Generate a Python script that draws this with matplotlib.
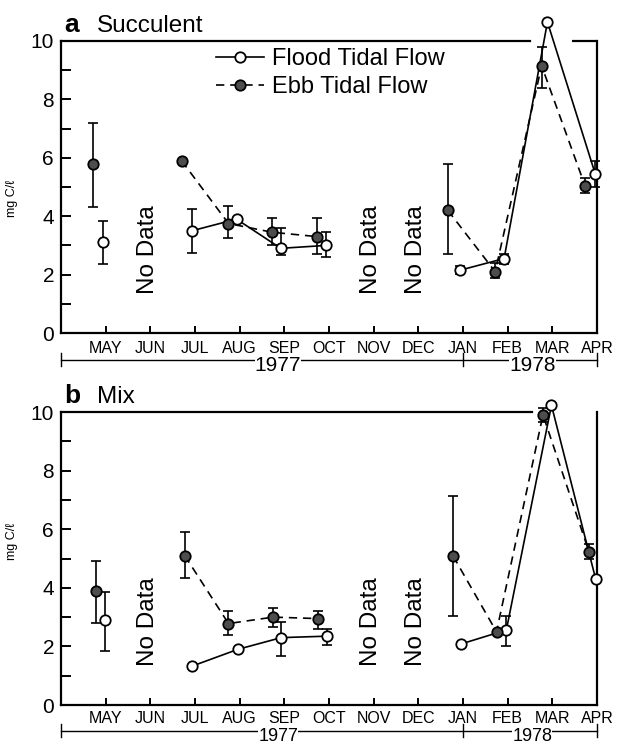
import numpy as np
import matplotlib
matplotlib.use("Agg")
from matplotlib import pyplot as plt

plt.rcParams["font.family"] = ["Liberation Sans", "DejaVu Sans"]

months = ["MAY", "JUN", "JUL", "AUG", "SEP", "OCT", "NOV", "DEC",
          "JAN", "FEB", "MAR", "APR"]
years = ["1977", "1978"]
year_bounds = [0, 9, 12]
no_data_months = [2, 7, 8]

# sampling position (months since APR 1977), concentration and error limits
# index groups: [MAY], [JUL..OCT], [JAN..APR]
segments = [(0, 1), (1, 5), (5, 9)]

a_flood_x = [0.94, 2.93, 3.93, 4.92, 5.94, 8.93, 9.92, 10.89, 11.96]
a_flood_y = [3.1, 3.5, 3.9, 2.9, 3.0, 2.15, 2.55, 10.65, 5.45]
a_flood_lo = [2.35, 2.75, np.nan, 2.68, 2.6, 2.02, 2.38, np.nan, 5.0]
a_flood_hi = [3.83, 4.25, np.nan, 3.58, 3.47, 2.28, 2.7, np.nan, 5.88]

a_ebb_x = [0.72, 2.70, 3.75, 4.73, 5.74, 8.66, 9.72, 10.76, 11.73]
a_ebb_y = [5.8, 5.9, 3.75, 3.45, 3.3, 4.2, 2.1, 9.15, 5.05]
a_ebb_lo = [4.3, np.nan, 3.25, 3.0, 2.7, 2.7, 1.9, 8.4, 4.8]
a_ebb_hi = [7.2, np.nan, 4.35, 3.95, 3.95, 5.8, 2.4, 9.8, 5.3]

b_flood_x = [0.99, 2.94, 3.96, 4.93, 5.96, 8.95, 9.97, 10.98, 11.97]
b_flood_y = [2.9, 1.33, 1.9, 2.3, 2.35, 2.08, 2.56, 10.23, 4.3]
b_flood_lo = [1.85, np.nan, np.nan, 1.68, 2.05, np.nan, 2.0, np.nan, np.nan]
b_flood_hi = [3.85, np.nan, np.nan, 2.85, 2.6, np.nan, 3.05, np.nan, np.nan]

b_ebb_x = [0.79, 2.77, 3.75, 4.75, 5.75, 8.78, 9.75, 10.79, 11.82]
b_ebb_y = [3.9, 5.1, 2.78, 3.0, 2.95, 5.08, 2.5, 9.9, 5.23]
b_ebb_lo = [2.8, 4.35, 2.4, 2.65, 2.6, 3.05, np.nan, 9.65, 5.0]
b_ebb_hi = [4.9, 5.9, 3.2, 3.32, 3.22, 7.15, np.nan, 10.15, 5.5]


def draw_series(ax, x, y, lo, hi, dashed, label):
    x = np.array(x)
    y = np.array(y)
    err = np.vstack([y - np.array(lo), np.array(hi) - y])
    ax.errorbar(x, y, yerr=err, fmt="none", ecolor="black", elinewidth=1.2,
                capsize=3.5, capthick=1.2, clip_on=False, zorder=2)
    ls = (0, (5, 3.5)) if dashed else "-"
    for s, e in segments:
        ax.plot(x[s:e], y[s:e], color="black", lw=1.2, ls=ls,
                clip_on=False, zorder=3)
    face = "#4d4d4d" if dashed else "white"
    ax.plot(x, y, ls="none", marker="o", ms=7.5, mfc=face, mec="black",
            mew=1.3, clip_on=False, zorder=4)
    # proxy for legend
    return ax.plot([], [], color="black", lw=1.2, ls=ls, marker="o", ms=7.5,
                   mfc=face, mec="black", mew=1.3, label=label)[0]


def setup_axes(ax, letter, name, top_gap, extra_top, ylab_y, yb, yfs, xpad):
    ax.set_xlim(0, 12)
    ax.set_ylim(0, 10)
    for sp in ax.spines.values():
        sp.set_linewidth(1.6)
    ax.spines["top"].set_bounds(0, top_gap)
    if extra_top is not None:
        ax.plot([extra_top, 12], [10, 10], color="black", lw=1.6,
                clip_on=False, solid_capstyle="butt")
    ax.set_yticks(range(0, 11, 2))
    ax.set_yticks(range(1, 11, 2), minor=True)
    ax.tick_params(axis="y", which="both", direction="in", length=7,
                   width=1.4, labelsize=15, pad=5, right=False)
    ax.set_xticks(range(1, 13))
    ax.set_xticklabels(months)
    ax.tick_params(axis="x", direction="in", length=5, width=1.4,
                   labelsize=11.5, pad=xpad, top=False)
    ax.set_ylabel("mg C/\u2113", fontsize=9)
    ax.yaxis.set_label_coords(-0.08, ylab_y)

    ax.text(0.006, 1.03, letter, transform=ax.transAxes, fontsize=19,
            fontweight="bold", va="baseline", ha="left")
    ax.text(0.067, 1.03, name, transform=ax.transAxes, fontsize=17.5,
            va="baseline", ha="left")

    for m in no_data_months:
        ax.text(m - 0.05, 2.85, "No Data", rotation=90, fontsize=17.5,
                ha="center", va="center")

    tr = ax.get_xaxis_transform()
    ax.plot([year_bounds[0], year_bounds[-1]], [yb, yb], color="black",
            lw=1.0, transform=tr, clip_on=False)
    for xb in year_bounds:
        ax.plot([xb, xb], [yb - 0.022, yb + 0.022], color="black", lw=1.0,
                transform=tr, clip_on=False)
    for i, yr in enumerate(years):
        xc = (year_bounds[i] + year_bounds[i + 1]) / 2 + (0.36 if i == 0 else 0.05)
        ax.text(xc, yb - 0.018, yr, transform=tr, fontsize=yfs, ha="center",
                va="center", bbox=dict(facecolor="white", edgecolor="none",
                                       pad=0.0))


fig = plt.figure(figsize=(6.19, 7.44), dpi=100)
ax_a = fig.add_axes([0.0985, 0.5524, 0.866, 0.3925])
ax_b = fig.add_axes([0.0985, 0.0524, 0.866, 0.3938])

setup_axes(ax_a, "a", "Succulent", 10.5, 11.44, 0.46, -0.092, 15, 6)
h1 = draw_series(ax_a, a_flood_x, a_flood_y, a_flood_lo, a_flood_hi,
                 False, "Flood Tidal Flow")
h2 = draw_series(ax_a, a_ebb_x, a_ebb_y, a_ebb_lo, a_ebb_hi,
                 True, "Ebb Tidal Flow")
ax_a.legend(handles=[h1, h2], loc="upper left", bbox_to_anchor=(0.29, 0.975),
            frameon=False, fontsize=17, handlelength=2.0, handletextpad=0.35,
            labelspacing=0.25, borderaxespad=0, borderpad=0)

setup_axes(ax_b, "b", "Mix", 10.54, None, 0.56, -0.088, 13, 4)
draw_series(ax_b, b_flood_x, b_flood_y, b_flood_lo, b_flood_hi,
            False, "Flood Tidal Flow")
draw_series(ax_b, b_ebb_x, b_ebb_y, b_ebb_lo, b_ebb_hi,
            True, "Ebb Tidal Flow")

fig.savefig("out.png", dpi=100)
